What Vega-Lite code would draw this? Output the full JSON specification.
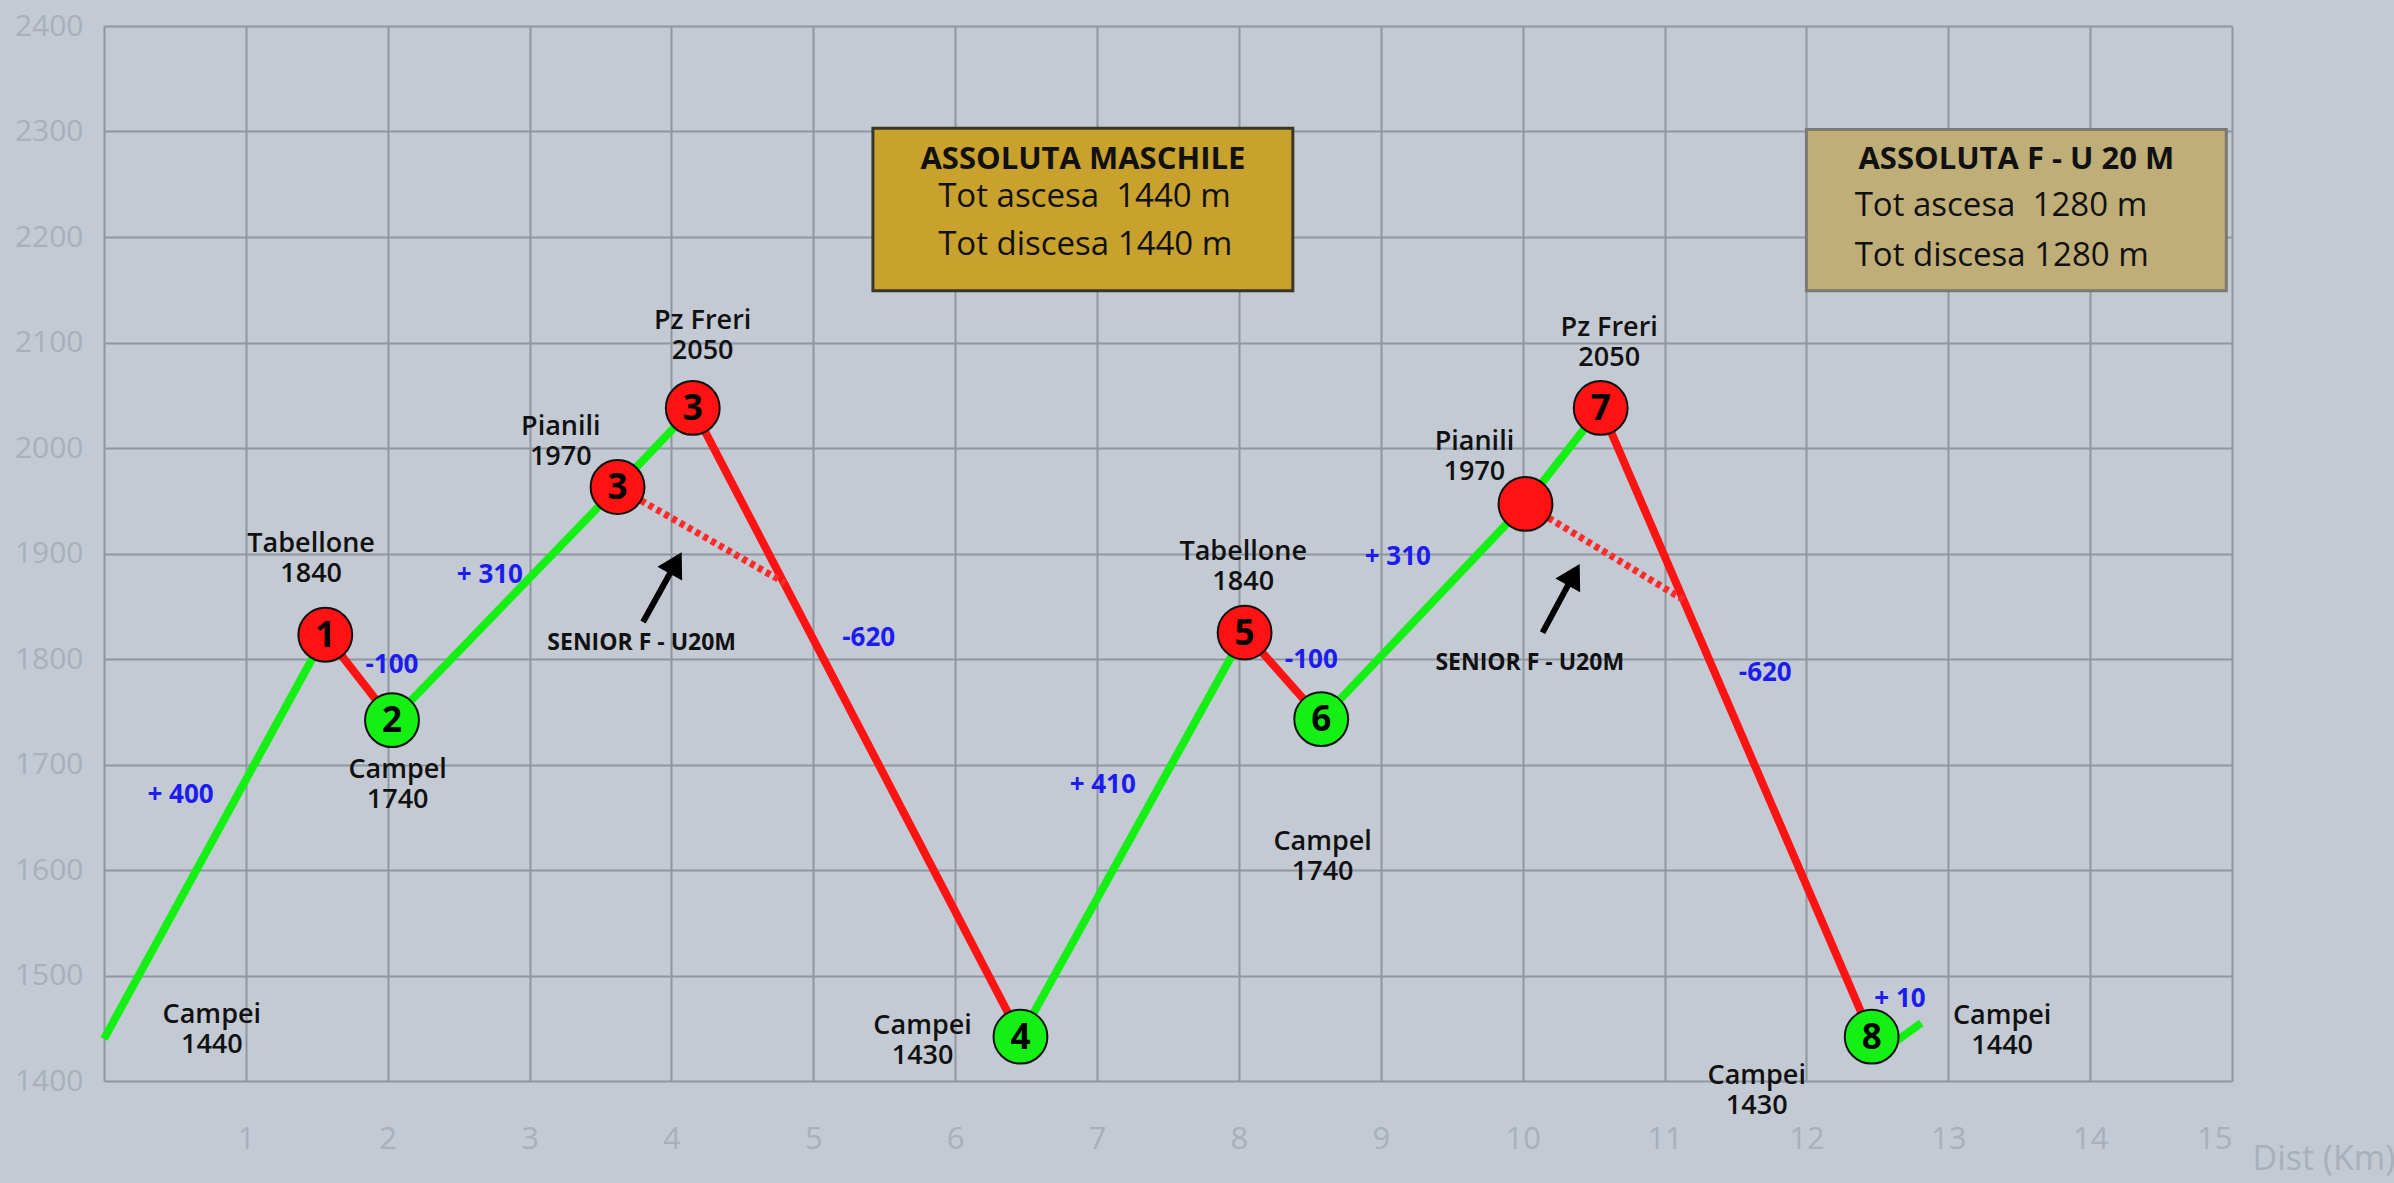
{
  "$schema": "https://vega.github.io/schema/vega-lite/v6.json",
  "width": 2128,
  "height": 1055,
  "autosize": {"type": "none"},
  "padding": {"left": 104, "top": 26, "right": 162, "bottom": 102},
  "background": "#c3cad3",
  "config": {"view": {"stroke": null}, "font": "Open Sans"},
  "datasets": {
    "lines": [
      {"seg": "g1", "kind": "green", "o": 0, "x": 0, "y": 1440},
      {"seg": "g1", "kind": "green", "o": 1, "x": 1.56, "y": 1823},
      {"seg": "r1", "kind": "red", "o": 0, "x": 1.56, "y": 1823},
      {"seg": "r1", "kind": "red", "o": 1, "x": 2.03, "y": 1742},
      {"seg": "g2", "kind": "green", "o": 0, "x": 2.03, "y": 1742},
      {"seg": "g2", "kind": "green", "o": 1, "x": 3.62, "y": 1963},
      {"seg": "g2", "kind": "green", "o": 2, "x": 4.15, "y": 2038},
      {"seg": "r2", "kind": "red", "o": 0, "x": 4.15, "y": 2038},
      {"seg": "r2", "kind": "red", "o": 1, "x": 6.46, "y": 1442},
      {"seg": "g3", "kind": "green", "o": 0, "x": 6.46, "y": 1442},
      {"seg": "g3", "kind": "green", "o": 1, "x": 8.04, "y": 1825},
      {"seg": "r3", "kind": "red", "o": 0, "x": 8.04, "y": 1825},
      {"seg": "r3", "kind": "red", "o": 1, "x": 8.58, "y": 1743},
      {"seg": "g4", "kind": "green", "o": 0, "x": 8.58, "y": 1743},
      {"seg": "g4", "kind": "green", "o": 1, "x": 10.02, "y": 1947},
      {"seg": "g4", "kind": "green", "o": 2, "x": 10.55, "y": 2038},
      {"seg": "r4", "kind": "red", "o": 0, "x": 10.55, "y": 2038},
      {"seg": "r4", "kind": "red", "o": 1, "x": 12.46, "y": 1442},
      {"seg": "g5", "kind": "green", "o": 0, "x": 12.5, "y": 1425},
      {"seg": "g5", "kind": "green", "o": 1, "x": 12.81, "y": 1455},
      {"seg": "d1", "kind": "dash", "o": 0, "x": 3.62, "y": 1963},
      {"seg": "d1", "kind": "dash", "o": 1, "x": 4.8, "y": 1872},
      {"seg": "d2", "kind": "dash", "o": 0, "x": 10.02, "y": 1947},
      {"seg": "d2", "kind": "dash", "o": 1, "x": 11.16, "y": 1854}
    ],
    "circles": [
      {"x": 1.56, "y": 1823, "kind": "red", "num": "1"},
      {"x": 2.03, "y": 1742, "kind": "green", "num": "2"},
      {"x": 3.62, "y": 1963, "kind": "red", "num": "3"},
      {"x": 4.15, "y": 2038, "kind": "red", "num": "3"},
      {"x": 6.46, "y": 1442, "kind": "green", "num": "4"},
      {"x": 8.04, "y": 1825, "kind": "red", "num": "5"},
      {"x": 8.58, "y": 1743, "kind": "green", "num": "6"},
      {"x": 10.02, "y": 1947, "kind": "red", "num": ""},
      {"x": 10.55, "y": 2038, "kind": "red", "num": "7"},
      {"x": 12.46, "y": 1442, "kind": "green", "num": "8"}
    ],
    "labels": [
      {"k": "black", "x": 1.46, "y": 1909, "t": "Tabellone\n1840"},
      {"k": "black", "x": 2.07, "y": 1695, "t": "Campel\n1740"},
      {"k": "black", "x": 3.22, "y": 2020, "t": "Pianili\n1970"},
      {"k": "black", "x": 4.22, "y": 2120, "t": "Pz Freri\n2050"},
      {"k": "black", "x": 0.76, "y": 1463, "t": "Campei\n1440"},
      {"k": "black", "x": 5.77, "y": 1452, "t": "Campei\n1430"},
      {"k": "black", "x": 8.03, "y": 1901, "t": "Tabellone\n1840"},
      {"k": "black", "x": 8.59, "y": 1627, "t": "Campel\n1740"},
      {"k": "black", "x": 9.66, "y": 2006, "t": "Pianili\n1970"},
      {"k": "black", "x": 10.61, "y": 2114, "t": "Pz Freri\n2050"},
      {"k": "black", "x": 11.65, "y": 1405, "t": "Campei\n1430"},
      {"k": "black", "x": 13.38, "y": 1462, "t": "Campei\n1440"},
      {"k": "note", "x": 3.79, "y": 1815, "t": "SENIOR F - U20M"},
      {"k": "note", "x": 10.05, "y": 1796, "t": "SENIOR F - U20M"},
      {"k": "blue", "x": 0.54, "y": 1671, "t": "+ 400"},
      {"k": "blue", "x": 2.03, "y": 1794, "t": "-100"},
      {"k": "blue", "x": 2.72, "y": 1880, "t": "+ 310"},
      {"k": "blue", "x": 5.39, "y": 1820, "t": "-620"},
      {"k": "blue", "x": 7.04, "y": 1681, "t": "+ 410"},
      {"k": "blue", "x": 8.51, "y": 1799, "t": "-100"},
      {"k": "blue", "x": 9.12, "y": 1897, "t": "+ 310"},
      {"k": "blue", "x": 11.71, "y": 1787, "t": "-620"},
      {"k": "blue", "x": 12.66, "y": 1478, "t": "+ 10"}
    ],
    "boxes": [
      {"box": "M", "x": 5.42, "x2": 8.38, "y": 2149, "y2": 2303},
      {"box": "F", "x": 12.0, "x2": 14.96, "y": 2149, "y2": 2302}
    ],
    "boxtitles": [
      {"x": 6.9, "y": 2273, "t": "ASSOLUTA MASCHILE"},
      {"x": 13.48, "y": 2273, "t": "ASSOLUTA F - U 20 M"}
    ],
    "boxlines": [
      {"x": 5.88, "y": 2238, "t": "Tot ascesa\u00a0 1440 m"},
      {"x": 5.88, "y": 2192, "t": "Tot discesa 1440 m"},
      {"x": 12.34, "y": 2229, "t": "Tot ascesa\u00a0 1280 m"},
      {"x": 12.34, "y": 2182, "t": "Tot discesa 1280 m"}
    ],
    "arrows": [
      {"x": 3.8, "y": 1835, "hx": 4.03, "hy": 1891},
      {"x": 10.14, "y": 1825, "hx": 10.36, "hy": 1880}
    ]
  },
  "layer": [
    {
      "data": {"name": "boxes"},
      "mark": {"type": "rect", "strokeWidth": 3},
      "encoding": {
        "x": {
          "field": "x", "type": "quantitative",
          "scale": {"domain": [0, 15], "nice": false, "zero": false},
          "axis": {
            "values": [0, 1, 2, 3, 4, 5, 6, 7, 8, 9, 10, 11, 12, 13, 14, 15],
            "format": "d",
            "labelExpr": "datum.value == 0 ? '' : datum.label",
            "grid": true, "gridColor": "#8e96a0", "gridWidth": 2,
            "domain": false, "ticks": false,
            "labelFontSize": 31, "labelColor": "#a8b0ba", "labelFont": "Open Sans",
            "labelBaseline": "middle", "labelPadding": 58,
            "titleFontSize": 34, "titleFontWeight": "normal", "titleColor": "#a8b0ba",
            "titleFont": "Open Sans",
            "titleX": 2148, "titleY": 78, "titleAlign": "left", "titleBaseline": "middle"
          },
          "title": "Dist (Km)"
        },
        "x2": {"field": "x2"},
        "y": {
          "field": "y", "type": "quantitative",
          "scale": {"domain": [1400, 2400], "nice": false, "zero": false},
          "axis": {
            "values": [1400, 1500, 1600, 1700, 1800, 1900, 2000, 2100, 2200, 2300, 2400],
            "format": "d",
            "grid": true, "gridColor": "#8e96a0", "gridWidth": 2,
            "domain": false, "ticks": false,
            "labelFontSize": 30, "labelColor": "#a8b0ba", "labelFont": "Open Sans",
            "labelPadding": 21
          },
          "title": null
        },
        "y2": {"field": "y2"},
        "fill": {"field": "box", "type": "nominal", "scale": {"domain": ["M", "F"], "range": ["#c9a12d", "#bfae78"]}, "legend": null},
        "stroke": {"field": "box", "type": "nominal", "scale": {"domain": ["M", "F"], "range": ["#3a3628", "#7a7a72"]}, "legend": null}
      }
    },
    {
      "data": {"name": "boxtitles"},
      "mark": {"type": "text", "fontSize": 31, "fontWeight": "bold", "color": "#111111", "align": "center", "baseline": "middle", "font": "Open Sans"},
      "encoding": {
        "x": {"field": "x", "type": "quantitative", "title": "Dist (Km)"},
        "y": {"field": "y", "type": "quantitative", "title": null},
        "text": {"field": "t"}
      }
    },
    {
      "data": {"name": "boxlines"},
      "mark": {"type": "text", "fontSize": 33, "color": "#111111", "align": "left", "baseline": "middle", "font": "Open Sans"},
      "encoding": {
        "x": {"field": "x", "type": "quantitative", "title": "Dist (Km)"},
        "y": {"field": "y", "type": "quantitative", "title": null},
        "text": {"field": "t"}
      }
    },
    {
      "data": {"name": "lines"},
      "transform": [{"filter": "datum.kind != 'dash'"}],
      "mark": {"type": "line", "strokeWidth": 8},
      "encoding": {
        "x": {"field": "x", "type": "quantitative", "title": "Dist (Km)"},
        "y": {"field": "y", "type": "quantitative", "title": null},
        "detail": {"field": "seg"},
        "order": {"field": "o"},
        "color": {"field": "kind", "type": "nominal", "scale": {"domain": ["green", "red"], "range": ["#14f014", "#ff1212"]}, "legend": null}
      }
    },
    {
      "data": {"name": "lines"},
      "transform": [{"filter": "datum.kind == 'dash'"}],
      "mark": {"type": "line", "strokeWidth": 7, "strokeDash": [5, 4], "color": "#ff2a2a"},
      "encoding": {
        "x": {"field": "x", "type": "quantitative", "title": "Dist (Km)"},
        "y": {"field": "y", "type": "quantitative", "title": null},
        "detail": {"field": "seg"},
        "order": {"field": "o"}
      }
    },
    {
      "data": {"name": "arrows"},
      "mark": {"type": "rule", "strokeWidth": 6, "color": "#000000"},
      "encoding": {
        "x": {"field": "x", "type": "quantitative", "title": "Dist (Km)"},
        "y": {"field": "y", "type": "quantitative", "title": null},
        "x2": {"field": "hx"},
        "y2": {"field": "hy"}
      }
    },
    {
      "data": {"name": "arrows"},
      "mark": {"type": "point", "shape": "triangle-up", "filled": true, "size": 800, "angle": 29, "color": "#000000", "opacity": 1},
      "encoding": {
        "x": {"field": "hx", "type": "quantitative", "title": "Dist (Km)"},
        "y": {"field": "hy", "type": "quantitative", "title": null}
      }
    },
    {
      "data": {"name": "circles"},
      "mark": {"type": "point", "shape": "circle", "filled": true, "size": 2900, "stroke": "#111111", "strokeWidth": 2, "opacity": 1},
      "encoding": {
        "x": {"field": "x", "type": "quantitative", "title": "Dist (Km)"},
        "y": {"field": "y", "type": "quantitative", "title": null},
        "color": {"field": "kind", "type": "nominal", "scale": {"domain": ["green", "red"], "range": ["#14f014", "#ff1212"]}, "legend": null}
      }
    },
    {
      "data": {"name": "circles"},
      "mark": {"type": "text", "fontSize": 35, "fontWeight": "bold", "color": "#000000", "align": "center", "baseline": "middle", "dy": 1, "font": "Open Sans"},
      "encoding": {
        "x": {"field": "x", "type": "quantitative", "title": "Dist (Km)"},
        "y": {"field": "y", "type": "quantitative", "title": null},
        "text": {"field": "num"}
      }
    },
    {
      "data": {"name": "labels"},
      "transform": [{"filter": "datum.k == 'black'"}],
      "mark": {"type": "text", "fontSize": 27, "fontWeight": 600, "color": "#111111", "align": "center", "baseline": "middle", "lineBreak": "\n", "lineHeight": 30, "font": "Open Sans"},
      "encoding": {
        "x": {"field": "x", "type": "quantitative", "title": "Dist (Km)"},
        "y": {"field": "y", "type": "quantitative", "title": null},
        "text": {"field": "t"}
      }
    },
    {
      "data": {"name": "labels"},
      "transform": [{"filter": "datum.k == 'note'"}],
      "mark": {"type": "text", "fontSize": 23, "fontWeight": "bold", "color": "#111111", "align": "center", "baseline": "middle", "font": "Open Sans"},
      "encoding": {
        "x": {"field": "x", "type": "quantitative", "title": "Dist (Km)"},
        "y": {"field": "y", "type": "quantitative", "title": null},
        "text": {"field": "t"}
      }
    },
    {
      "data": {"name": "labels"},
      "transform": [{"filter": "datum.k == 'blue'"}],
      "mark": {"type": "text", "fontSize": 26, "fontWeight": "bold", "color": "#1c1cf0", "align": "center", "baseline": "middle", "font": "Open Sans"},
      "encoding": {
        "x": {"field": "x", "type": "quantitative", "title": "Dist (Km)"},
        "y": {"field": "y", "type": "quantitative", "title": null},
        "text": {"field": "t"}
      }
    }
  ]
}
